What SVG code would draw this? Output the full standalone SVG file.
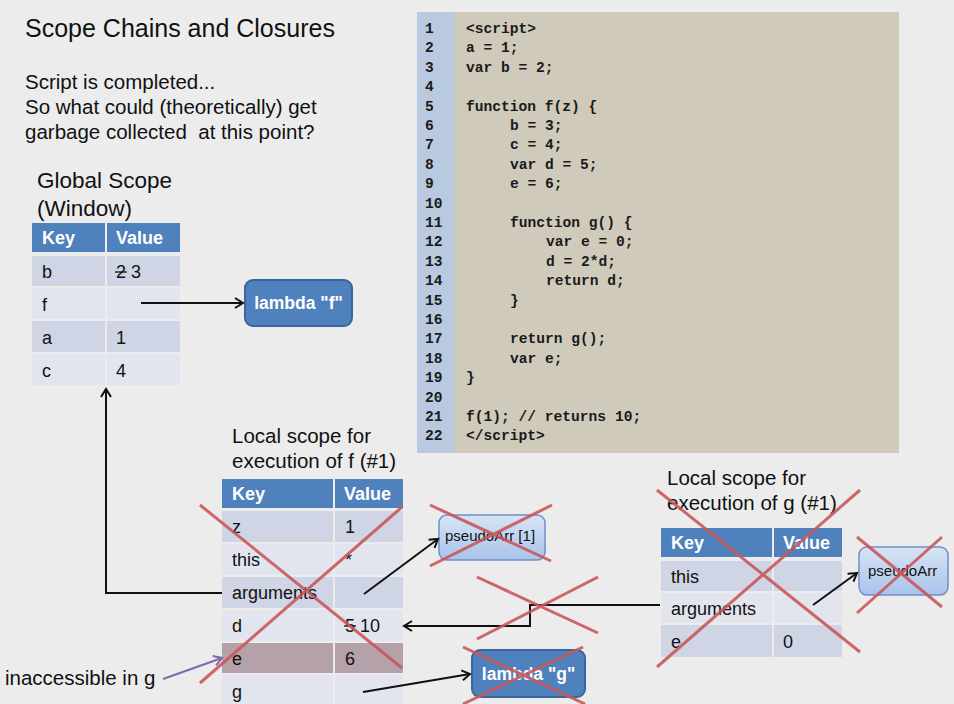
<svg xmlns="http://www.w3.org/2000/svg" width="954" height="704" viewBox="0 0 954 704">
<defs>
<marker id="arr" markerWidth="14" markerHeight="14" refX="10" refY="7" orient="auto" markerUnits="userSpaceOnUse">
<path d="M2,2 L10,7 L2,12" fill="none" stroke="#111" stroke-width="2"/>
</marker>
<marker id="arrp" markerWidth="14" markerHeight="14" refX="10" refY="7" orient="auto" markerUnits="userSpaceOnUse">
<path d="M2,2 L10,7 L2,12" fill="none" stroke="#7f6aa8" stroke-width="2"/>
</marker>
<linearGradient id="lg" x1="0" y1="0" x2="0" y2="1">
<stop offset="0" stop-color="#d7e4f5"/>
<stop offset="1" stop-color="#a9c3ea"/>
</linearGradient>
</defs>
<style>
text{font-family:"Liberation Sans","Open Sans",Arial,sans-serif;fill:#111}
.t1{font-size:25px}
.t2{font-size:20.5px}
.t3{font-size:22.5px}
.hd{fill:#4f81bd}
.dk{fill:#cfd5e4}
.lt{fill:#e2e5ee}
.hk{font-size:18px;font-weight:bold;fill:#fff}
.cell{font-size:18px}
.code{font-family:"Liberation Mono","DejaVu Sans Mono",monospace;font-size:14.6px;font-weight:bold;fill:#1a1a1a}
.ln{font-family:"Liberation Mono","DejaVu Sans Mono",monospace;font-size:14.6px;font-weight:bold;fill:#1a1a1a}
.x{stroke:#c9585a;stroke-width:3;stroke-opacity:0.9;fill:none}
.con{stroke:#111;stroke-width:2;fill:none}
.dbox{fill:#4f81bd;stroke:#3b6699;stroke-width:2}
.lbox{fill:url(#lg);stroke:#6d8fc8;stroke-width:1.5}
.wt{fill:#fff;font-size:17.5px;font-weight:bold}
.sm{font-size:15px}
</style>
<rect width="954" height="704" fill="#ececec"/>

<text class="t1" x="25" y="37">Scope Chains and Closures</text>
<text class="t2" x="25" y="89">Script is completed...</text>
<text class="t2" x="25" y="114">So what could (theoretically) get</text>
<text class="t2" x="25" y="139" xml:space="preserve">garbage collected  at this point?</text>

<g id="code">
<rect x="417" y="12" width="482" height="441" fill="#d0cabb"/>
<rect x="417" y="12" width="38" height="441" fill="#b9c9e0"/>
<g>
<text class="ln" x="425" y="33">1</text>
<text class="ln" x="425" y="52.4">2</text>
<text class="ln" x="425" y="71.8">3</text>
<text class="ln" x="425" y="91.2">4</text>
<text class="ln" x="425" y="110.6">5</text>
<text class="ln" x="425" y="130">6</text>
<text class="ln" x="425" y="149.4">7</text>
<text class="ln" x="425" y="168.8">8</text>
<text class="ln" x="425" y="188.2">9</text>
<text class="ln" x="425" y="207.6">10</text>
<text class="ln" x="425" y="227">11</text>
<text class="ln" x="425" y="246.4">12</text>
<text class="ln" x="425" y="265.8">13</text>
<text class="ln" x="425" y="285.2">14</text>
<text class="ln" x="425" y="304.6">15</text>
<text class="ln" x="425" y="324">16</text>
<text class="ln" x="425" y="343.4">17</text>
<text class="ln" x="425" y="362.8">18</text>
<text class="ln" x="425" y="382.2">19</text>
<text class="ln" x="425" y="401.6">20</text>
<text class="ln" x="425" y="421">21</text>
<text class="ln" x="425" y="440.4">22</text>
</g>
<text class="code" x="466" y="33">&lt;script&gt;</text>
<text class="code" x="466" y="52.4">a = 1;</text>
<text class="code" x="466" y="71.8">var b = 2;</text>
<text class="code" x="466" y="110.6">function f(z) {</text>
<text class="code" x="510" y="130">b = 3;</text>
<text class="code" x="510" y="149.4">c = 4;</text>
<text class="code" x="510" y="168.8">var d = 5;</text>
<text class="code" x="510" y="188.2">e = 6;</text>
<text class="code" x="510" y="227">function g() {</text>
<text class="code" x="546" y="246.4">var e = 0;</text>
<text class="code" x="546" y="265.8">d = 2*d;</text>
<text class="code" x="546" y="285.2">return d;</text>
<text class="code" x="510" y="304.6">}</text>
<text class="code" x="510" y="343.4">return g();</text>
<text class="code" x="510" y="362.8">var e;</text>
<text class="code" x="466" y="382.2">}</text>
<text class="code" x="466" y="421">f(1); // returns 10;</text>
<text class="code" x="466" y="440.4">&lt;/script&gt;</text>
</g>

<g id="global">
<text class="t3" x="37" y="188">Global Scope</text>
<text class="t3" x="37" y="216">(Window)</text>
<rect class="hd" x="32" y="223" width="73" height="29"/>
<rect class="hd" x="107" y="223" width="73" height="29"/>
<rect class="dk" x="32" y="256" width="73" height="30"/>
<rect class="dk" x="107" y="256" width="73" height="30"/>
<rect class="lt" x="32" y="288" width="73" height="31"/>
<rect class="lt" x="107" y="288" width="73" height="31"/>
<rect class="dk" x="32" y="321" width="73" height="31"/>
<rect class="dk" x="107" y="321" width="73" height="31"/>
<rect class="lt" x="32" y="354" width="73" height="31"/>
<rect class="lt" x="107" y="354" width="73" height="31"/>
<text class="hk" x="42" y="244">Key</text>
<text class="hk" x="116" y="244">Value</text>
<text class="cell" x="42" y="278">b</text>
<text class="cell" x="116" y="278">2 3</text>
<line x1="115" y1="272" x2="127" y2="272" stroke="#111" stroke-width="1.3"/>
<text class="cell" x="42" y="311">f</text>
<text class="cell" x="42" y="344">a</text>
<text class="cell" x="116" y="344">1</text>
<text class="cell" x="42" y="377">c</text>
<text class="cell" x="116" y="377">4</text>
</g>

<g id="lambda-f">
<rect class="dbox" x="245" y="280" width="107" height="46" rx="8"/>
<text class="wt" x="298.5" y="309" text-anchor="middle">lambda "f"</text>
</g>

<g id="scope-f">
<text class="t2" x="232" y="443">Local scope for</text>
<text class="t2" x="232" y="468">execution of f (#1)</text>
<rect class="hd" x="222" y="479" width="111" height="29"/>
<rect class="hd" x="335" y="479" width="68" height="29"/>
<rect class="dk" x="222" y="511" width="111" height="31"/>
<rect class="dk" x="335" y="511" width="68" height="31"/>
<rect class="lt" x="222" y="544" width="111" height="31"/>
<rect class="lt" x="335" y="544" width="68" height="31"/>
<rect class="dk" x="222" y="577" width="111" height="31"/>
<rect class="dk" x="335" y="577" width="68" height="31"/>
<rect class="lt" x="222" y="610" width="111" height="31"/>
<rect class="lt" x="335" y="610" width="68" height="31"/>
<rect x="222" y="643" width="111" height="30" fill="#b4a1a9"/>
<rect x="335" y="643" width="68" height="30" fill="#b4a1a9"/>
<rect class="lt" x="222" y="675" width="111" height="29"/>
<rect class="lt" x="335" y="675" width="68" height="29"/>
<text class="hk" x="232" y="500">Key</text>
<text class="hk" x="344" y="500">Value</text>
<text class="cell" x="232" y="533">z</text>
<text class="cell" x="345" y="533">1</text>
<text class="cell" x="232" y="566">this</text>
<text class="cell" x="345" y="566">*</text>
<text class="cell" x="232" y="599">arguments</text>
<text class="cell" x="232" y="632">d</text>
<text class="cell" x="345" y="632">5 10</text>
<line x1="344" y1="626" x2="356" y2="626" stroke="#111" stroke-width="1.3"/>
<text class="cell" x="232" y="665">e</text>
<text class="cell" x="345" y="665">6</text>
<text class="cell" x="232" y="698">g</text>
</g>

<g id="pseudo-f">
<rect class="lbox" x="439" y="515" width="106" height="45" rx="8"/>
<text class="sm" x="445" y="541">pseudoArr [1]</text>
</g>

<g id="lambda-g">
<rect class="dbox" x="472" y="650" width="113" height="47" rx="8"/>
<text class="wt" x="528.5" y="680" text-anchor="middle">lambda "g"</text>
</g>

<g id="scope-g">
<text class="t2" x="667" y="485">Local scope for</text>
<text class="t2" x="667" y="510">execution of g (#1)</text>
<rect class="hd" x="661" y="528" width="111" height="29"/>
<rect class="hd" x="774" y="528" width="68" height="29"/>
<rect class="dk" x="661" y="561" width="111" height="30"/>
<rect class="dk" x="774" y="561" width="68" height="30"/>
<rect class="lt" x="661" y="593" width="111" height="30"/>
<rect class="lt" x="774" y="593" width="68" height="30"/>
<rect class="dk" x="661" y="625" width="111" height="32"/>
<rect class="dk" x="774" y="625" width="68" height="32"/>
<text class="hk" x="671" y="549">Key</text>
<text class="hk" x="783" y="549">Value</text>
<text class="cell" x="671" y="583">this</text>
<text class="cell" x="671" y="615">arguments</text>
<text class="cell" x="671" y="648">e</text>
<text class="cell" x="783" y="648">0</text>
</g>

<g id="pseudo-g">
<rect class="lbox" x="859" y="547" width="89" height="48" rx="8"/>
<text class="sm" x="868" y="576">pseudoArr</text>
</g>

<g id="note">
<text class="t2" x="5" y="685">inaccessible in g</text>
</g>

<g id="connectors">
<line class="con" x1="141" y1="303" x2="243" y2="303" marker-end="url(#arr)"/>
<polyline class="con" points="222,593 106,593 106,389" marker-end="url(#arr)"/>
<line class="con" x1="364" y1="594" x2="438" y2="539" marker-end="url(#arr)"/>
<polyline class="con" points="660,605 530,605 530,626 404,626" marker-end="url(#arr)"/>
<line class="con" x1="363" y1="692" x2="470" y2="674" marker-end="url(#arr)"/>
<line class="con" x1="813" y1="605" x2="857" y2="573" marker-end="url(#arr)"/>
<line x1="163" y1="679" x2="222" y2="658" stroke="#7f6aa8" stroke-width="2" marker-end="url(#arrp)"/>
</g>

<g id="crosses">
<path class="x" d="M200,505 L402,668 M402,507 L200,683"/>
<path class="x" d="M430,505 L551,561 M552,505 L430,566"/>
<path class="x" d="M477,577 L598,633 M598,577 L477,639"/>
<path class="x" d="M463,647 L585,704 M583,647 L463,704"/>
<path class="x" d="M657,490 L860,652 M860,490 L657,667"/>
<path class="x" d="M857,537 L942,607 M942,537 L857,613"/>
</g>
</svg>
